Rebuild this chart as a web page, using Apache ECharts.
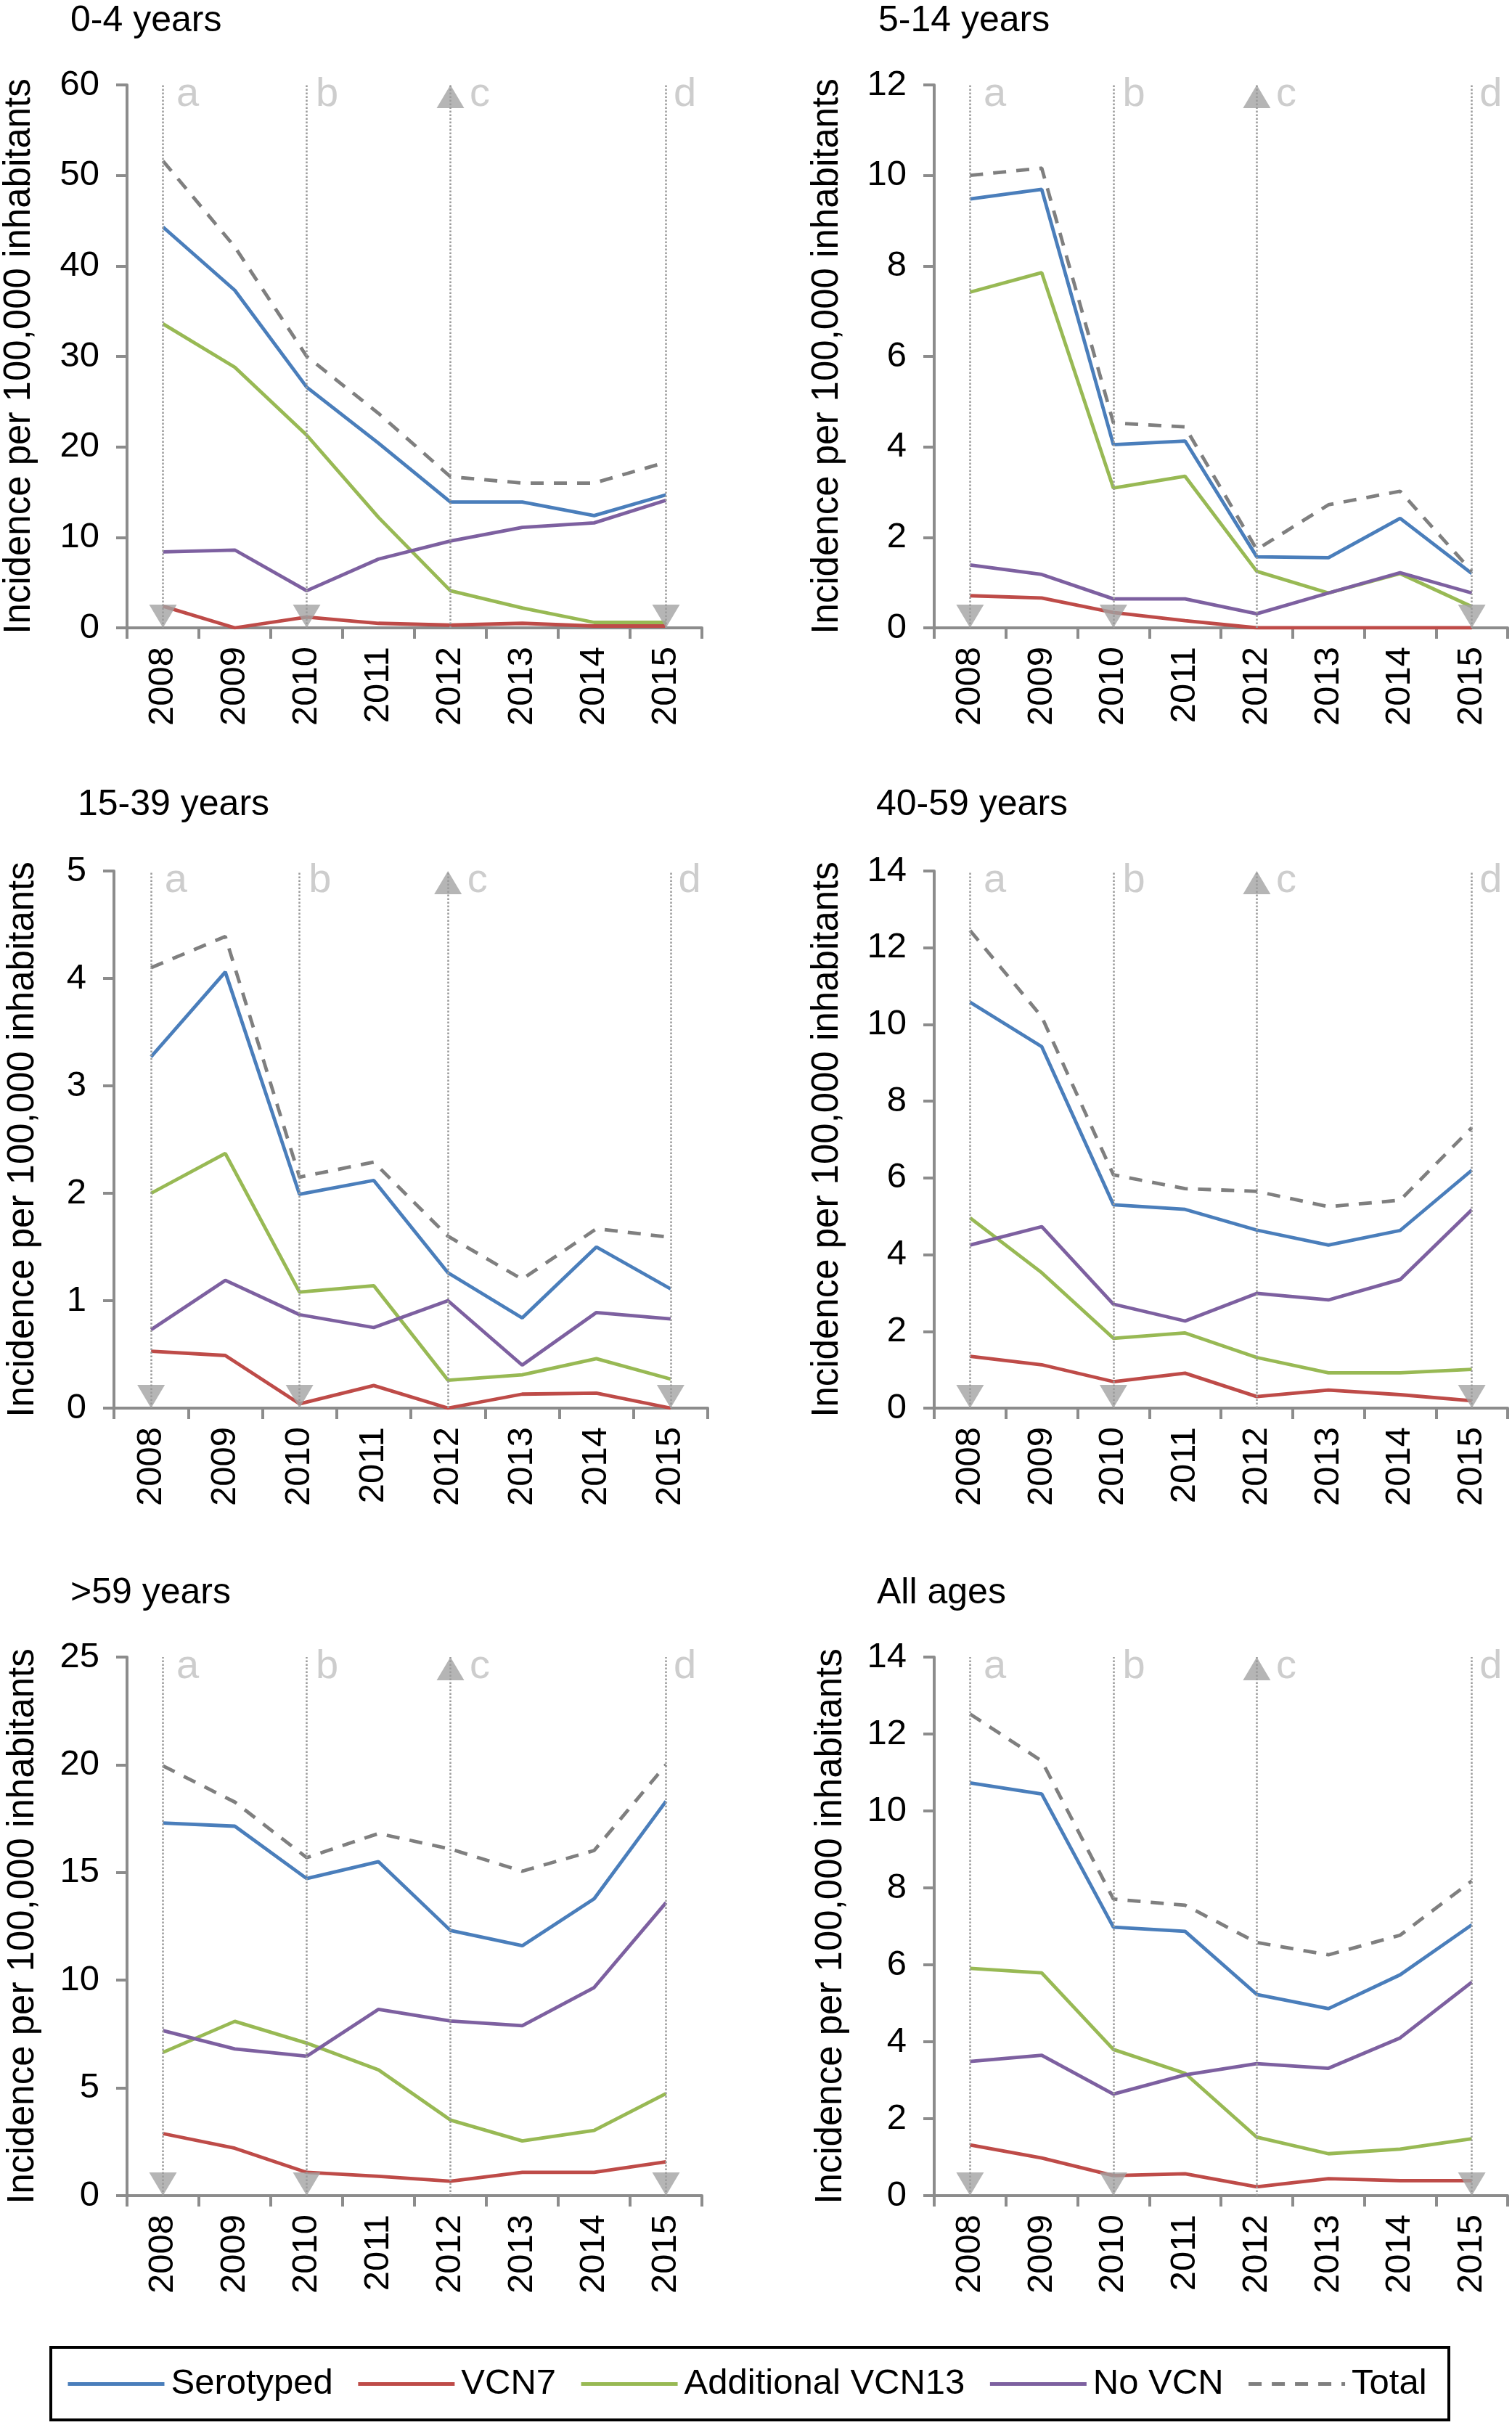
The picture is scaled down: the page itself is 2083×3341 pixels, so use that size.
<!DOCTYPE html>
<html>
<head>
<meta charset="utf-8">
<script src="https://cdn.jsdelivr.net/npm/echarts@6/dist/echarts.min.js"></script>
<style>
html,body{margin:0;padding:0;background:#fff;}
#c{width:2083px;height:3341px;}
</style>
</head>
<body>
<div id="c"></div>
<script>
var years = ['2008','2009','2010','2011','2012','2013','2014','2015'];
var seriesNames = ['Serotyped','VCN7','Additional VCN13','No VCN','Total'];
var panelTitles = ['0-4 years','5-14 years','15-39 years','40-59 years','>59 years','All ages'];
var yMaxes = [60, 12, 5, 14, 25, 14];
var yIntervals = [10, 2, 1, 2, 5, 2];

// 0-4 years
var ser_0_4   = [44.3, 37.3, 26.6, 20.4, 13.9, 13.9, 12.4, 14.7];
var vcn7_0_4  = [2.4, 0, 1.2, 0.5, 0.3, 0.5, 0.2, 0.2];
var add13_0_4 = [33.6, 28.8, 21.3, 12.2, 4.1, 2.2, 0.6, 0.6];
var novcn_0_4 = [8.4, 8.6, 4.1, 7.6, 9.6, 11.1, 11.6, 14.1];
var total_0_4 = [51.6, 42.1, 30.0, 23.7, 16.7, 16.0, 16.0, 18.3];
// 5-14 years
var ser_5_14   = [9.48, 9.69, 4.05, 4.13, 1.57, 1.55, 2.42, 1.2];
var vcn7_5_14  = [0.71, 0.66, 0.34, 0.16, 0, 0, 0, 0];
var add13_5_14 = [7.42, 7.85, 3.09, 3.35, 1.25, 0.77, 1.2, 0.47];
var novcn_5_14 = [1.39, 1.18, 0.64, 0.64, 0.31, 0.77, 1.22, 0.77];
var total_5_14 = [10.0, 10.16, 4.53, 4.44, 1.73, 2.72, 3.02, 1.25];
// 15-39 years
var ser_15_39   = [3.27, 4.06, 1.99, 2.12, 1.26, 0.84, 1.5, 1.11];
var vcn7_15_39  = [0.53, 0.49, 0.04, 0.21, 0, 0.13, 0.14, 0];
var add13_15_39 = [2.0, 2.37, 1.08, 1.14, 0.26, 0.31, 0.46, 0.27];
var novcn_15_39 = [0.73, 1.19, 0.87, 0.75, 1.0, 0.4, 0.89, 0.83];
var total_15_39 = [4.10, 4.39, 2.15, 2.29, 1.6, 1.2, 1.67, 1.59];
// 40-59 years
var ser_40_59   = [10.58, 9.42, 5.30, 5.18, 4.64, 4.25, 4.63, 6.2];
var vcn7_40_59  = [1.35, 1.13, 0.69, 0.91, 0.3, 0.47, 0.35, 0.19];
var add13_40_59 = [4.96, 3.53, 1.82, 1.96, 1.32, 0.92, 0.92, 1.01];
var novcn_40_59 = [4.25, 4.73, 2.71, 2.27, 2.99, 2.82, 3.35, 5.17];
var total_40_59 = [12.45, 10.2, 6.08, 5.72, 5.65, 5.25, 5.42, 7.31];
// >59 years
var ser_60   = [17.3, 17.15, 14.72, 15.5, 12.31, 11.6, 13.78, 18.31];
var vcn7_60  = [2.88, 2.2, 1.08, 0.9, 0.67, 1.08, 1.08, 1.57];
var add13_60 = [6.65, 8.09, 7.08, 5.84, 3.51, 2.54, 3.03, 4.74];
var novcn_60 = [7.66, 6.81, 6.47, 8.65, 8.11, 7.89, 9.66, 13.6];
var total_60 = [19.95, 18.27, 15.69, 16.81, 16.09, 15.06, 16.02, 20.0];
// All ages
var ser_all   = [10.73, 10.44, 6.98, 6.87, 5.23, 4.86, 5.74, 7.04];
var vcn7_all  = [1.32, 0.98, 0.52, 0.57, 0.23, 0.44, 0.39, 0.39];
var add13_all = [5.91, 5.79, 3.8, 3.18, 1.52, 1.09, 1.21, 1.48];
var novcn_all = [3.49, 3.65, 2.64, 3.14, 3.43, 3.31, 4.1, 5.55];
var total_all = [12.52, 11.3, 7.71, 7.55, 6.58, 6.26, 6.77, 8.18];

// vaccination events
var eventYears = ['2008','2010','2012','2015'];
var eventLetters = ['a','b','c','d'];
var downArrowYears = ['2008','2010','2015'];
var upArrowYears = ['2012'];

var panelData = [
  [ser_0_4, vcn7_0_4, add13_0_4, novcn_0_4, total_0_4],
  [ser_5_14, vcn7_5_14, add13_5_14, novcn_5_14, total_5_14],
  [ser_15_39, vcn7_15_39, add13_15_39, novcn_15_39, total_15_39],
  [ser_40_59, vcn7_40_59, add13_40_59, novcn_40_59, total_40_59],
  [ser_60, vcn7_60, add13_60, novcn_60, total_60],
  [ser_all, vcn7_all, add13_all, novcn_all, total_all]
];

// layout (pixels)
var grids = [
  {left:175, top:117, width:792, height:748, nameGap:123, titleLeft:97, titleTop:4},
  {left:1287, top:117, width:790, height:748, nameGap:122, titleLeft:1210, titleTop:4},
  {left:157, top:1200, width:818, height:740, nameGap:100, titleLeft:107, titleTop:1084},
  {left:1287, top:1200, width:790, height:740, nameGap:122, titleLeft:1207, titleTop:1084},
  {left:175, top:2283, width:792, height:742, nameGap:118, titleLeft:97, titleTop:2170},
  {left:1287, top:2283, width:790, height:742, nameGap:117, titleLeft:1208, titleTop:2170}
];

var colors = ['#4a7ebb', '#be4b48', '#98b954', '#7d60a0', '#7f7f7f'];
var FONT = '"Liberation Sans", Arial, Helvetica, sans-serif';
var axisGrey = '#8c8c8c';

var option = {
  animation: false,
  backgroundColor: '#fff',
  textStyle: {fontFamily: FONT},
  title: [],
  grid: [],
  xAxis: [],
  yAxis: [],
  series: [],
  legend: {
    data: seriesNames,
    left: 91,
    top: 3260,
    itemWidth: 133,
    itemHeight: 20,
    itemGap: 32,
    padding: 0,
    itemStyle: {opacity: 0},
    lineStyle: {width: 5},
    textStyle: {fontSize: 49, color: '#000', fontFamily: FONT, padding: [0, 0, 0, 4]},
    selectedMode: false
  },
  graphic: [{
    type: 'rect',
    shape: {x: 70, y: 3234, width: 1926, height: 100},
    style: {fill: 'none', stroke: '#000', lineWidth: 4},
    silent: true
  }]
};

grids.forEach(function(g, i) {
  option.title.push({
    text: panelTitles[i], left: g.titleLeft, top: g.titleTop, padding: 0,
    textStyle: {fontSize: 50, fontWeight: 'normal', color: '#000', fontFamily: FONT}
  });
  option.grid.push({left: g.left, top: g.top, width: g.width, height: g.height, containLabel: false});
  option.xAxis.push({
    type: 'category', gridIndex: i, data: years, boundaryGap: true,
    axisLine: {show: true, lineStyle: {color: axisGrey, width: 4}},
    axisTick: {show: true, length: 15, lineStyle: {color: axisGrey, width: 4}},
    axisLabel: {rotate: 90, fontSize: 49, color: '#000', margin: 26, fontFamily: FONT},
    splitLine: {show: false}
  });
  option.yAxis.push({
    type: 'value', gridIndex: i, min: 0, max: yMaxes[i], interval: yIntervals[i],
    name: 'Incidence per 100,000 inhabitants', nameLocation: 'middle', nameGap: g.nameGap,
    nameTextStyle: {fontSize: 51, color: '#000', fontFamily: FONT},
    axisLine: {show: true, lineStyle: {color: axisGrey, width: 4}},
    axisTick: {show: true, length: 15, lineStyle: {color: axisGrey, width: 4}},
    axisLabel: {fontSize: 49, color: '#000', margin: 38, fontFamily: FONT},
    splitLine: {show: false}
  });
  var vals = panelData[i];
  seriesNames.forEach(function(name, k) {
    option.series.push({
      name: name, type: 'line', xAxisIndex: i, yAxisIndex: i,
      data: vals[k], symbol: 'none', showSymbol: false,
      color: colors[k],
      lineStyle: {color: colors[k], width: 4.8, type: k === 4 ? [18, 14] : 'solid'},
      z: k === 4 ? 3 : 2
    });
  });
  // arrows + dotted event lines
  var arrowData = [];
  downArrowYears.forEach(function(y) {
    arrowData.push({value: [y, 0], symbolRotate: 180, symbolOffset: [0, -16]});
  });
  upArrowYears.forEach(function(y) {
    arrowData.push({value: [y, yMaxes[i]], symbolRotate: 0, symbolOffset: [0, 16]});
  });
  option.series.push({
    name: 'events', type: 'scatter', xAxisIndex: i, yAxisIndex: i,
    symbol: 'triangle', symbolSize: [38, 32], clip: false,
    itemStyle: {color: '#a3a3a3'}, z: 4, silent: true,
    data: arrowData,
    markLine: {
      silent: true, symbol: ['none', 'none'], label: {show: false},
      lineStyle: {type: 'dotted', color: '#9a9a9a', width: 2.5},
      data: eventYears.map(function(y) { return {xAxis: y}; })
    }
  });
  // letters
  var dist = [18, 12, 26, 10];
  option.series.push({
    name: 'letters', type: 'scatter', xAxisIndex: i, yAxisIndex: i,
    symbol: 'circle', symbolSize: 1, clip: false, silent: true,
    itemStyle: {color: 'rgba(0,0,0,0)'},
    data: eventYears.map(function(y, j) {
      return {value: [y, yMaxes[i]], label: {show: true, formatter: eventLetters[j], position: 'right', distance: dist[j], offset: [0, 14], fontSize: 56, color: '#c0c0c0', fontFamily: FONT}};
    })
  });
});

var chart = echarts.init(document.getElementById('c'), null, {renderer: 'canvas'});
chart.setOption(option);
</script>
</body>
</html>
